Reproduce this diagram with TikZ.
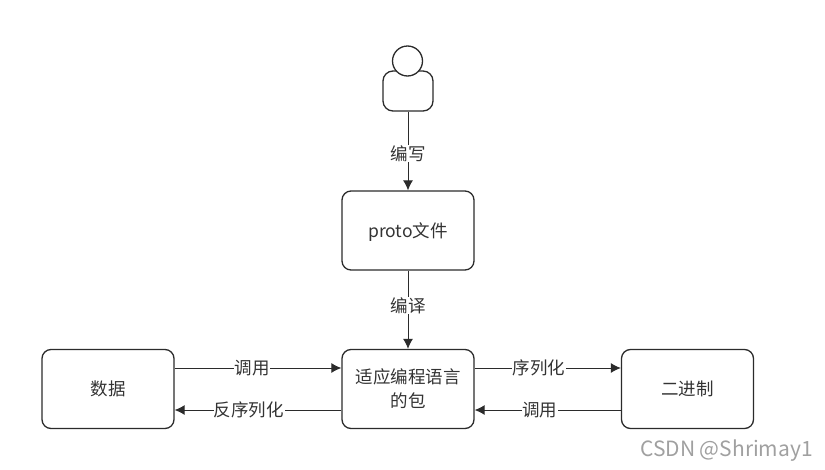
\documentclass[tikz,border=0pt]{standalone}
\usepackage{fontspec}
\setmainfont{Noto Sans CJK SC}
\usetikzlibrary{arrows.meta}
\definecolor{linecol}{HTML}{2B2B2B}
\definecolor{textcol}{HTML}{333333}
\definecolor{markcol}{HTML}{A0A0A0}
\tikzset{
  box/.style={draw=linecol, line width=1.3pt, rounded corners=9pt, minimum width=132pt, minimum height=79pt, inner sep=0pt, align=center, text=textcol, font=\fontsize{17.5}{24}\selectfont},
  one/.style={text height=1.45em, text depth=.12em},
  conn/.style={draw=linecol, line width=1pt, -{Latex[length=10pt,width=10pt]}},
  lab/.style={fill=white, inner sep=0.5pt, text=textcol, font=\fontsize{17.5}{20}\selectfont},
}
\begin{document}
\begin{tikzpicture}[x=1pt,y=-1pt]
\useasboundingbox (0,0) rectangle (825,469);

% person
\node[draw=linecol, line width=1.3pt, rounded corners=10pt, minimum width=50pt, minimum height=40pt, inner sep=0pt] (body) at (408,91) {};
\node[draw=linecol, fill=white, line width=1.3pt, circle, minimum size=30pt, inner sep=0pt] (head) at (407.5,61) {};

% boxes
\node[box, one] (proto) at (408,230.5) {proto文件};
\node[box] (pkg) at (408,389) {适应编程语言\\的包};
\node[box, one] (data) at (108,389) {数据};
\node[box, one] (bin) at (687.5,389) {二进制};

% vertical connectors
\draw[conn] (body) -- node[lab, pos=.53] (l1) {编写} (proto);
\draw[conn] (proto) -- node[lab, pos=.45] (l2) {编译} (pkg);

% horizontal connectors
\draw[conn] ([yshift=21pt]data.east) -- node[lab, pos=.464] (l3) {调用} ([yshift=21pt]pkg.west);
\draw[conn] ([yshift=-21pt]pkg.west) -- node[lab, pos=.554] (l4) {反序列化} ([yshift=-21pt]data.east);
\draw[conn] ([yshift=21pt]pkg.east) -- node[lab, pos=.44] (l5) {序列化} ([yshift=21pt]bin.west);
\draw[conn] ([yshift=-21pt]bin.west) -- node[lab, pos=.554] (l6) {调用} ([yshift=-21pt]pkg.east);

% watermark
\node[anchor=east, inner sep=0pt, text=markcol, font=\fontsize{21}{24}\selectfont] (mark) at (813,451) {CSDN @Shrimay1};
\end{tikzpicture}
\end{document}
